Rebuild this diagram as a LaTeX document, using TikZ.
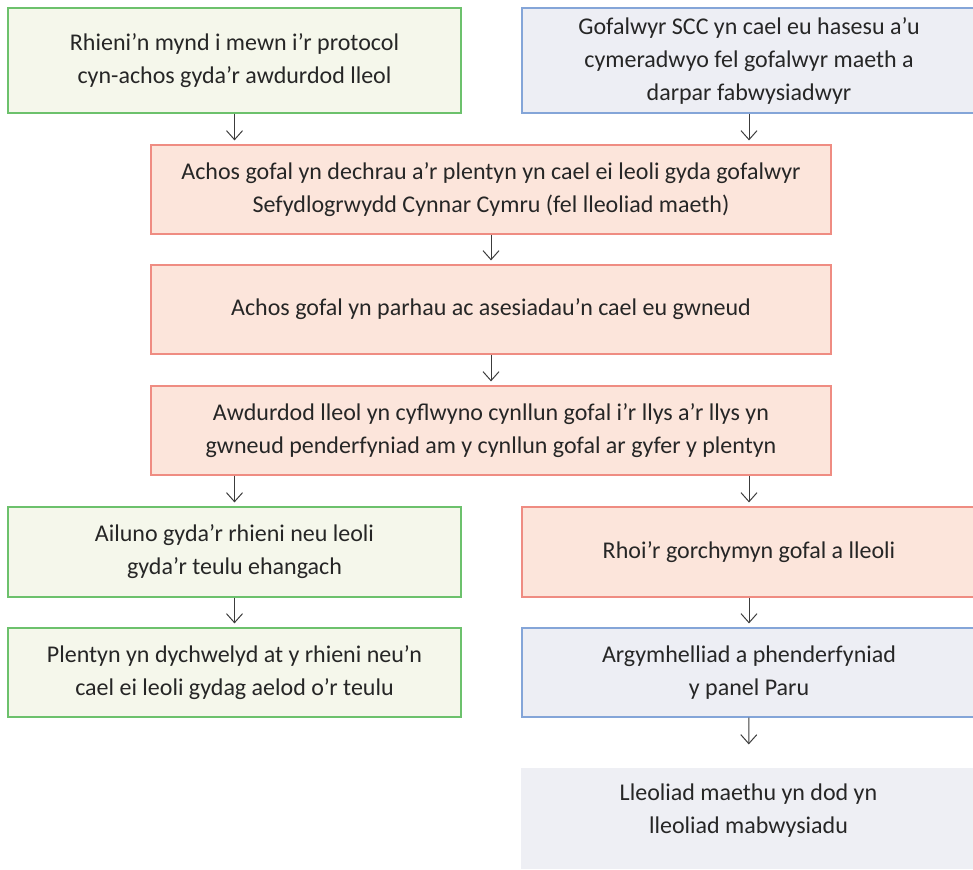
\documentclass[tikz,border=0pt]{standalone}
\usepackage{fontspec}
\setmainfont{Carlito}
\usetikzlibrary{arrows.meta}
\definecolor{greenfill}{HTML}{F5F7EB}
\definecolor{greenline}{HTML}{6CC16C}
\definecolor{bluefill}{HTML}{EDEEF4}
\definecolor{blueline}{HTML}{84A5D8}
\definecolor{redfill}{HTML}{FCE5DB}
\definecolor{redline}{HTML}{EF8C82}
\definecolor{greyfill}{HTML}{EEEFF4}
\definecolor{arrowgrey}{HTML}{3C3C3C}
\begin{document}
\begin{tikzpicture}[
    x=0.5pt, y=-0.5pt,
    box/.style={rectangle, align=center, inner sep=0pt, line width=0.6pt,
      font=\fontsize{12}{16.5}\selectfont, text=black!85},
    narrow/.style={box, minimum width=226.5pt},
    wide/.style={box, minimum width=340pt, minimum height=44.5pt},
    greenbox/.style={narrow, fill=greenfill, draw=greenline},
    bluebox/.style={narrow, fill=bluefill, draw=blueline},
    redbox/.style={box, fill=redfill, draw=redline},
    arrow/.style={-{Straight Barb[length=4.5pt,width=8pt]}, arrowgrey, line width=0.5pt, shorten >=2pt}
]
\useasboundingbox (0,0) rectangle (973,869);

% top row
\node[greenbox, minimum height=52.5pt] (parents) at (234.5,60.5)
  {Rhieni'n mynd i mewn i'r protocol\\cyn-achos gyda'r awdurdod lleol};
\node[bluebox, minimum width=227pt, minimum height=52.5pt] (carers) at (749,60.5)
  {Gofalwyr SCC yn cael eu hasesu a'u\\cymeradwyo fel gofalwyr maeth a\\darpar fabwysiadwyr};

% middle column
\node[redbox, wide] (start) at (491,189.5)
  {Achos gofal yn dechrau a'r plentyn yn cael ei leoli gyda gofalwyr\\Sefydlogrwydd Cynnar Cymru (fel lleoliad maeth)};
\node[redbox, wide] (assess) at (491,309.5)
  {Achos gofal yn parhau ac asesiadau'n cael eu gwneud};
\node[redbox, wide] (plan) at (491,430.5)
  {Awdurdod lleol yn cyflwyno cynllun gofal i'r llys a'r llys yn\\gwneud penderfyniad am y cynllun gofal ar gyfer y plentyn};

% left branch
\node[greenbox, minimum height=45pt] (rehome) at (234.5,552)
  {Ailuno gyda'r rhieni neu leoli\\gyda'r teulu ehangach};
\node[greenbox, minimum height=44.5pt] (return) at (234.5,672.5)
  {Plentyn yn dychwelyd at y rhieni neu'n\\cael ei leoli gydag aelod o'r teulu};

% right branch
\node[redbox, minimum width=227pt, minimum height=45pt] (order) at (749,552)
  {Rhoi'r gorchymyn gofal a lleoli};
\node[bluebox, minimum width=227pt, minimum height=44.5pt] (panel) at (749,672.5)
  {Argymhelliad a phenderfyniad\\y panel Paru};
\node[box, fill=greyfill, minimum width=227.5pt, minimum height=50.5pt, text depth=10pt] (adopt) at (748.5,818.5)
  {Lleoliad maethu yn dod yn\\lleoliad mabwysiadu};

\draw[arrow] (parents.south) -- (parents.south |- start.north);
\draw[arrow] (carers.south) -- (carers.south |- start.north);
\draw[arrow] (start) -- (assess);
\draw[arrow] (assess) -- (plan);
\draw[arrow] (plan.south -| rehome) -- (rehome);
\draw[arrow] (plan.south -| order) -- (order);
\draw[arrow] (rehome) -- (return);
\draw[arrow] (order) -- (panel);
\draw[arrow, shorten >=11.5pt] (panel) -- (adopt);

\end{tikzpicture}
\end{document}
